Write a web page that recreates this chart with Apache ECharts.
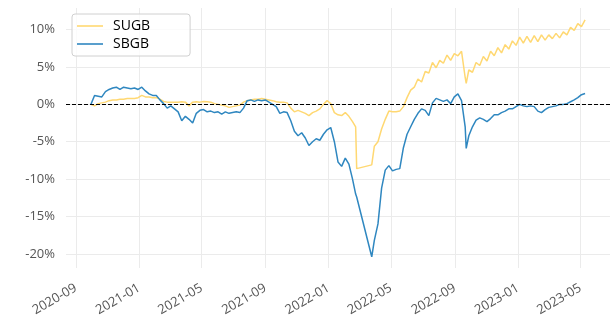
<!DOCTYPE html>
<html>
<head>
<meta charset="utf-8">
<script src="https://cdn.jsdelivr.net/npm/echarts@6/dist/echarts.min.js"></script>
<style>html,body{margin:0;padding:0;background:#fff}#c{width:613px;height:326px}</style>
</head>
<body>
<div id="c"></div>
<script>
const dates = [
'2020-09-30','2020-10-07','2020-10-14','2020-10-21','2020-10-28','2020-11-04','2020-11-11','2020-11-18','2020-11-25','2020-12-02',
'2020-12-09','2020-12-16','2020-12-23','2020-12-30','2021-01-06','2021-01-13','2021-01-20','2021-01-27','2021-02-03','2021-02-10',
'2021-02-17','2021-02-24','2021-03-03','2021-03-10','2021-03-17','2021-03-24','2021-03-31','2021-04-07','2021-04-14','2021-04-21',
'2021-04-28','2021-05-05','2021-05-12','2021-05-19','2021-05-26','2021-06-02','2021-06-09','2021-06-16','2021-06-23','2021-06-30',
'2021-07-07','2021-07-14','2021-07-21','2021-07-28','2021-08-04','2021-08-11','2021-08-18','2021-08-25','2021-09-01','2021-09-08',
'2021-09-15','2021-09-22','2021-09-29','2021-10-06','2021-10-13','2021-10-20','2021-10-27','2021-11-03','2021-11-10','2021-11-17',
'2021-11-24','2021-12-01','2021-12-08','2021-12-15','2021-12-22','2021-12-29','2022-01-05','2022-01-12','2022-01-19','2022-01-26',
'2022-02-02','2022-02-09','2022-02-16','2022-02-22','2022-02-24','2022-03-25','2022-03-30','2022-04-06','2022-04-13','2022-04-20',
'2022-04-27','2022-05-04','2022-05-11','2022-05-18','2022-05-25','2022-06-01','2022-06-08','2022-06-15','2022-06-22','2022-06-29',
'2022-07-06','2022-07-13','2022-07-20','2022-07-27','2022-08-03','2022-08-10','2022-08-17','2022-08-24','2022-08-31','2022-09-07',
'2022-09-14','2022-09-21','2022-09-23','2022-09-28','2022-10-05','2022-10-12','2022-10-19','2022-10-26','2022-11-02','2022-11-09',
'2022-11-16','2022-11-23','2022-11-30','2022-12-07','2022-12-14','2022-12-21','2022-12-28','2023-01-04','2023-01-11','2023-01-18',
'2023-01-25','2023-02-01','2023-02-08','2023-02-15','2023-02-22','2023-03-01','2023-03-08','2023-03-15','2023-03-22','2023-03-29',
'2023-04-05','2023-04-12','2023-04-19','2023-04-26','2023-05-03','2023-05-10'
];
const sugb = [
0.0,-0.2,0.1,0.2,0.3,0.5,0.6,0.6,0.7,0.7,
0.8,0.8,0.8,0.9,1.2,1.0,1.0,0.9,0.9,0.7,
0.4,0.3,0.3,0.3,0.3,0.35,0.3,-0.2,0.3,0.35,
0.3,0.4,0.35,0.3,0.1,0.0,-0.1,-0.2,-0.4,-0.3,
-0.2,-0.1,0.3,0.5,0.6,0.7,0.7,0.8,0.7,0.6,
0.5,0.35,0.3,0.3,0.2,-0.5,-1.0,-0.8,-1.0,-1.2,
-1.5,-1.1,-0.9,-0.6,0.0,0.5,0.1,-1.1,-1.4,-1.5,
-1.1,-1.6,-2.3,-3.0,-8.6,-8.1,-5.6,-5.0,-3.3,-2.0,
-0.9,-1.0,-1.0,-0.9,-0.3,0.9,1.9,2.3,3.4,3.0,
4.4,4.2,5.6,4.9,5.9,5.5,6.6,5.9,6.8,6.5,
7.1,3.6,2.8,4.6,4.3,5.6,5.2,6.4,5.8,7.1,
6.5,7.6,6.9,8.0,7.4,8.5,7.9,9.0,8.2,9.1,
8.3,9.2,8.4,9.3,8.6,9.3,8.8,9.5,8.9,9.7,
9.3,10.3,9.9,10.8,10.4,11.3
];
const sbgb = [
0.0,1.2,1.1,1.0,1.7,2.0,2.2,2.3,2.0,2.3,
2.2,2.1,2.2,2.0,2.3,1.8,1.4,1.2,1.2,0.6,
0.1,-0.5,-0.2,-0.6,-1.0,-2.2,-1.6,-2.0,-2.5,-1.2,
-0.8,-0.7,-1.0,-0.9,-1.1,-1.0,-1.3,-1.0,-1.2,-1.1,
-1.0,-1.1,-0.5,0.5,0.6,0.4,0.6,0.5,0.6,0.3,
0.0,-0.3,-1.2,-1.0,-1.1,-2.2,-3.6,-4.2,-3.8,-4.5,
-5.5,-5.0,-4.6,-4.8,-4.0,-3.4,-3.1,-5.0,-7.7,-8.3,
-7.2,-8.0,-10.0,-12.0,-12.4,-20.4,-18.2,-16.0,-11.2,-8.8,
-8.2,-8.9,-8.7,-8.6,-5.8,-4.0,-3.0,-2.0,-1.2,-0.6,
-0.8,-1.5,0.2,0.8,0.6,0.4,0.6,0.1,1.0,1.4,
0.5,-3.0,-5.9,-4.2,-3.0,-2.1,-1.8,-2.0,-2.3,-1.9,
-1.4,-1.4,-1.1,-0.9,-0.6,-0.6,-0.3,0.0,-0.2,-0.3,
-0.2,-0.3,-0.9,-1.1,-0.7,-0.4,-0.3,-0.2,0.0,0.0,
0.1,0.35,0.6,0.9,1.3,1.45
];
const xTicks = ['2020-09-01','2021-01-01','2021-05-01','2021-09-01','2022-01-01','2022-05-01','2022-09-01','2023-01-01','2023-05-01'];
const yTicks = [-20,-15,-10,-5,0,5,10];
const seriesNames = ['SUGB','SBGB'];

const toTs = s => { const p = s.split('-').map(Number); return Date.UTC(p[0], p[1]-1, p[2]); };
const pad = n => (n < 10 ? '0' : '') + n;
const chart = echarts.init(document.getElementById('c'), null, {renderer:'canvas'});
const font = "'Open Sans', sans-serif";
chart.setOption({
  animation: false,
  backgroundColor: '#fff',
  grid: {left: 66, right: 3, top: 8, bottom: 58},
  legend: {
    orient: 'vertical', left: 72, top: 14,
    padding: [5, 40, 5, 5],
    itemWidth: 26, itemHeight: 14, itemGap: 4,
    icon: 'path://M0 0H26V1.6H0Z',
    backgroundColor: 'rgba(255,255,255,0.8)', borderColor: '#d0d0d0', borderWidth: 1, borderRadius: 3,
    textStyle: {fontFamily: font, fontSize: 14, color: '#000', padding: [0,0,0,5]},
    data: seriesNames
  },
  xAxis: {
    type: 'value',
    min: toTs('2020-08-13'), max: toTs('2023-06-27'),
    axisLine: {show: false},
    axisTick: {show: false, customValues: xTicks.map(toTs)},
    splitLine: {show: true, lineStyle: {color: '#ebebeb', width: 1}},
    axisLabel: {
      customValues: xTicks.map(toTs),
      rotate: 30, margin: 19, color: '#555', fontFamily: font, fontSize: 13,
      formatter: v => { const d = new Date(v); return d.getUTCFullYear() + '-' + pad(d.getUTCMonth()+1); }
    }
  },
  yAxis: {
    type: 'value', min: -21.9, max: 12.9,
    axisLine: {show: false},
    axisTick: {show: false, customValues: yTicks},
    splitLine: {show: true, lineStyle: {color: '#ebebeb', width: 1}},
    axisLabel: {customValues: yTicks, margin: 11, color: '#555', fontFamily: font, fontSize: 13, formatter: v => v + '%'}
  },
  series: [
    {name: seriesNames[0], type: 'line', symbol: 'none', color: '#ffd872',
     lineStyle: {width: 1.5, color: '#ffd872'},
     data: dates.map((d,i) => [toTs(d), sugb[i]])},
    {name: seriesNames[1], type: 'line', symbol: 'none', color: '#2f87c0',
     lineStyle: {width: 1.5, color: '#2f87c0'},
     data: dates.map((d,i) => [toTs(d), sbgb[i]]),
     markLine: {silent: true, symbol: 'none', label: {show: false},
       lineStyle: {color: '#000', type: [4, 2], width: 1.2},
       data: [{yAxis: 0}]}}
  ]
});
</script>
</body>
</html>
